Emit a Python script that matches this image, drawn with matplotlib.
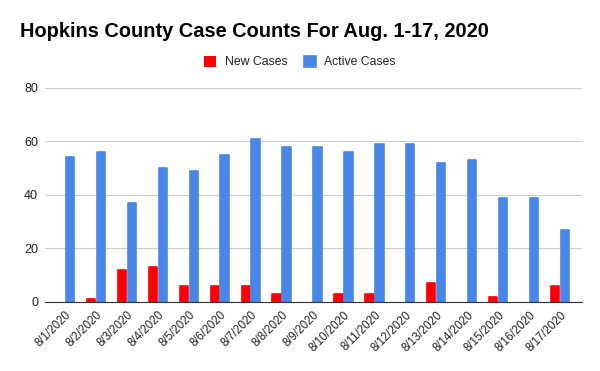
import numpy as np
import matplotlib.pyplot as plt

dates = ['8/1/2020', '8/2/2020', '8/3/2020', '8/4/2020', '8/5/2020', '8/6/2020',
         '8/7/2020', '8/8/2020', '8/9/2020', '8/10/2020', '8/11/2020', '8/12/2020',
         '8/13/2020', '8/14/2020', '8/15/2020', '8/16/2020', '8/17/2020']
new_cases = [0, 1, 12, 13, 6, 6, 6, 3, 0, 3, 3, 0, 7, 0, 2, 0, 6]
active_cases = [54, 56, 37, 50, 49, 55, 61, 58, 58, 56, 59, 59, 52, 53, 39, 39, 27]

plt.rcParams['font.family'] = ['Liberation Sans', 'DejaVu Sans']

fig = plt.figure(figsize=(6, 3.71), dpi=100)
ax = fig.add_axes([0.075, 0.186, 0.895, 0.577])

x = np.arange(len(dates))
w = 0.27
# rounded bar tops via round-joined outline in the same colour (none for empty bars)
ax.bar(x - 0.16, new_cases, w, color='#ff0000', edgecolor='#ff0000',
       linewidth=[1.2 if v else 0 for v in new_cases],
       joinstyle='round', label='New Cases', zorder=3)
ax.bar(x + 0.16, active_cases, w, color='#4a86e8', edgecolor='#4a86e8',
       linewidth=[1.2 if v else 0 for v in active_cases],
       joinstyle='round', label='Active Cases', zorder=3)

ax.set_ylim(0, 80)
ax.set_yticks([0, 20, 40, 60, 80])
ax.set_xlim(-0.646, 16.71)
ax.set_xticks(x)
ax.set_xticklabels(dates, rotation=45, ha='right', rotation_mode='anchor', fontsize=8.3, color='#222222')
ax.tick_params(axis='y', labelsize=9, colors='#222222', length=0, pad=5)
ax.tick_params(axis='x', length=0, pad=5)
ax.grid(axis='y', color='#cccccc', linewidth=0.8, zorder=0)
for s in ['top', 'right', 'left']:
    ax.spines[s].set_visible(False)
ax.spines['bottom'].set_color('#333333')
ax.spines['bottom'].set_zorder(4)

fig.text(0.033, 0.915, 'Hopkins County Case Counts For Aug. 1-17, 2020',
         fontsize=14.4, fontweight='bold', va='center', ha='left')
fig.legend(loc='center', bbox_to_anchor=(0.5, 0.833), ncol=2, frameon=False,
           fontsize=8.8, handlelength=1.0, handleheight=1.0, columnspacing=1.3,
           handletextpad=0.7, labelcolor='#222222')

fig.savefig('out.png', dpi=100)
